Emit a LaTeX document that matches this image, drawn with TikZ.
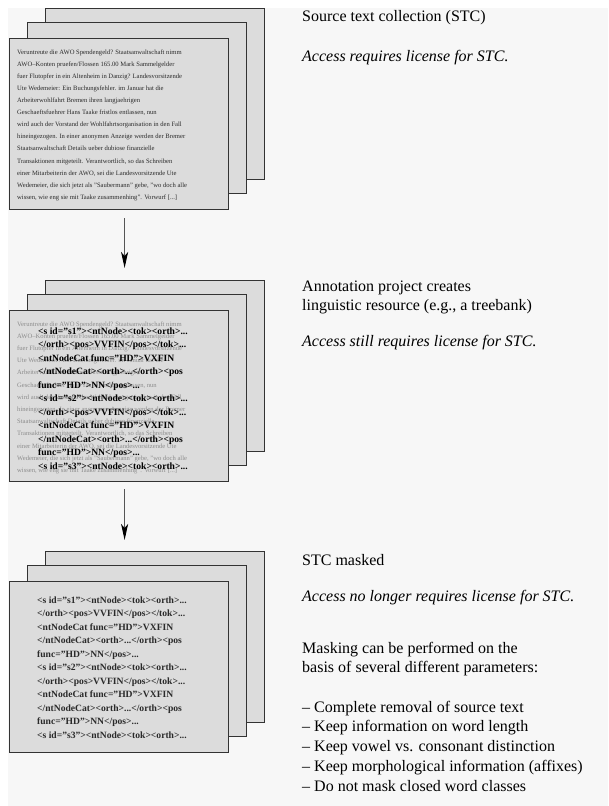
\documentclass[tikz,border=0pt]{standalone}
\usepackage{fontspec}
\setmainfont{Liberation Serif}
\usetikzlibrary{arrows.meta}

\definecolor{pagebg}{HTML}{F7F7F7}
\definecolor{sheetfill}{HTML}{DCDCDC}
\definecolor{sheetline}{HTML}{333333}
\definecolor{srctext}{HTML}{2A2A2A}
\definecolor{fadedtext}{HTML}{8C8C8C}
\definecolor{flowline}{HTML}{555555}

% newspaper passage of the source text collection
\newcommand\srcpassage{%
\begin{tabular}[t]{@{}l@{}}
Veruntreute die AWO Spendengeld? Staatsanwaltschaft nimm\\
AWO--Konten pruefen/Flossen 165.00 Mark Sammelgelder\\
fuer Flutopfer in ein Altenheim in Danzig? Landesvorsitzende\\
Ute Wedemeier: Ein Buchungsfehler. im Januar hat die\\
Arbeiterwohlfahrt Bremen ihren langjaehrigen\\
Geschaeftsfuehrer Hans Taake fristlos entlassen, nun\\
wird auch der Vorstand der Wohlfahrtsorganisation in den Fall\\
hineingezogen. In einer anonymen Anzeige werden der Bremer\\
Staatsanwaltschaft Details ueber dubiose finanzielle\\
Transaktionen mitgeteilt. Verantwortlich, so das Schreiben\\
einer Mitarbeiterin der AWO, sei die Landesvorsitzende Ute\\
Wedemeier, die sich jetzt als "Saubermann" gebe, "wo doch alle\\
wissen, wie eng sie mit Taake zusammenhing". Vorwurf [...]
\end{tabular}}

% treebank markup of the annotated resource
\newcommand\xmlpassage{%
\begin{tabular}[t]{@{}l@{}}
<s id="s1"><ntNode><tok><orth>...\\
</orth><pos>VVFIN</pos></tok>...\\
<ntNodeCat func="HD">VXFIN\\
</ntNodeCat><orth>...</orth><pos\\
func="HD">NN</pos>...\\
<s id="s2"><ntNode><tok><orth>...\\
</orth><pos>VVFIN</pos></tok>...\\
<ntNodeCat func="HD">VXFIN\\
</ntNodeCat><orth>...</orth><pos\\
func="HD">NN</pos>...\\
<s id="s3"><ntNode><tok><orth>...
\end{tabular}}

\begin{document}
\begin{tikzpicture}[x=1pt,y=-1pt,
  sheet/.style={draw=sheetline,line width=1.2pt,fill=sheetfill,
    minimum width=219pt,minimum height=171pt,anchor=north west,inner sep=0pt},
  srcfont/.style={anchor=base west,inner sep=0pt,text=srctext,
    font=\fontsize{6.6}{12.06}\selectfont},
  fadedfont/.style={srcfont,text=fadedtext,font=\fontsize{6.6}{12.2}\selectfont},
  xmlfont/.style={anchor=base west,inner sep=0pt,text=black,
    font=\fontsize{9.6}{13.5}\selectfont\bfseries},
  note/.style={anchor=base west,inner sep=0pt,text=black,
    font=\fontsize{16}{19.8}\selectfont},
  flow/.style={draw=flowline,line width=1pt,
    -{Stealth[length=16pt,width=7pt,inset=4pt,black]}}]

\path[use as bounding box] (0,0) rectangle (608,806);
\fill[pagebg] (8,8) rectangle (608,806);

% stack 1: source text collection
\node[sheet] (a3) at (45,8) {};
\node[sheet] (a2) at (27,21.5) {};
\node[sheet] (a1) at (9,38) {};
\node[srcfont] (atext) at (17,54.5) {\srcpassage};

% stack 2: annotated resource over the source text
\node[sheet] (b3) at (45,280) {};
\node[sheet] (b2) at (27,293.5) {};
\node[sheet] (b1) at (9,310) {};
\node[fadedfont] (btext) at (17,326) {\srcpassage};
\node[xmlfont] (bxml) at (38,334) {\xmlpassage};

% stack 3: masked collection
\node[sheet] (c3) at (45,551) {};
\node[sheet] (c2) at (27,564.5) {};
\node[sheet] (c1) at (9,581) {};
\node[xmlfont,text=srctext] (cxml) at (37,603) {\xmlpassage};

% processing steps
\draw[flow] ([xshift=5.5pt,yshift=-8pt]a1.south) -- ([xshift=-30.5pt,yshift=12pt]b3.north);
\draw[flow] ([xshift=5.5pt,yshift=-7pt]b1.south) -- ([xshift=-30.5pt,yshift=11pt]c3.north);

% descriptions
\node[note] (n1) at (302,21) {Source text collection (STC)};
\node[note] (n2) at (302,61) {\itshape Access requires license for STC.};

\node[note] (n3) at (302,291) {\begin{tabular}[t]{@{}l@{}}Annotation project creates\\ linguistic resource (e.g., a treebank)\end{tabular}};
\node[note] (n4) at (302,346) {\itshape Access still requires license for STC.};

\node[note] (n5) at (302,565) {STC masked};
\node[note] (n6) at (302,601) {\itshape Access no longer requires license for STC.};
\node[note] (n7) at (302,653) {\begin{tabular}[t]{@{}l@{}}Masking can be performed on the\\ basis of several different parameters:\end{tabular}};
\node[note] (n8) at (302,712) {\begin{tabular}[t]{@{}l@{}}
-- Complete removal of source text\\
-- Keep information on word length\\
-- Keep vowel vs. consonant distinction\\
-- Keep morphological information (affixes)\\
-- Do not mask closed word classes
\end{tabular}};
\end{tikzpicture}
\end{document}
